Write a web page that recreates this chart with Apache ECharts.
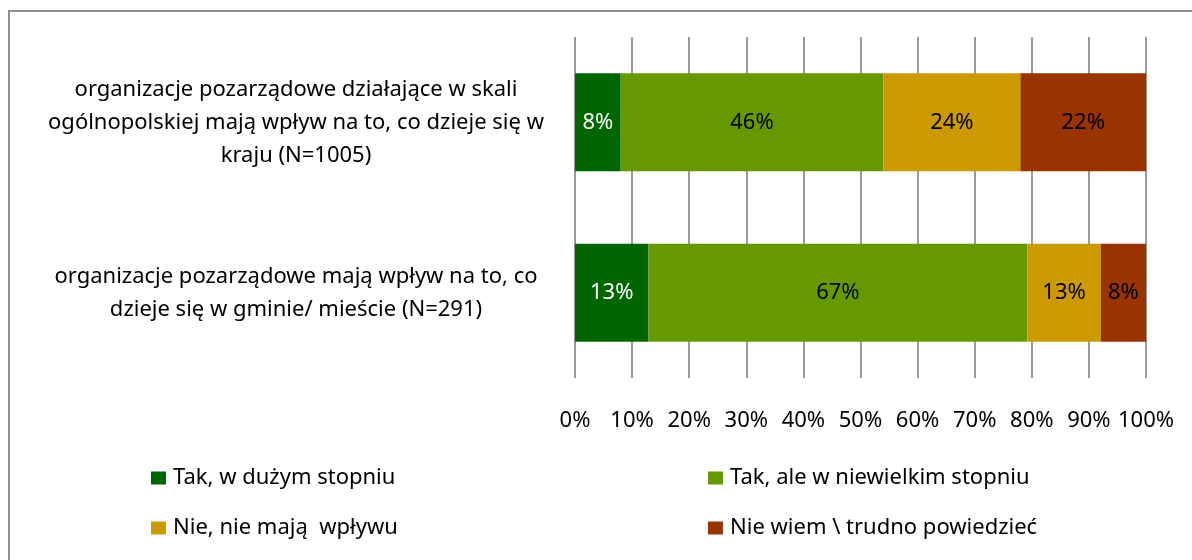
<!DOCTYPE html>
<html>
<head>
<meta charset="utf-8">
<script src="https://cdn.jsdelivr.net/npm/echarts@6/dist/echarts.min.js"></script>
<style>
  html, body { margin: 0; padding: 0; background: #fff; }
  #chart { width: 1192px; height: 560px; }
</style>
</head>
<body>
<div id="chart"></div>
<script>
// kategorie (od góry)
const categories = [
  'organizacje pozarządowe działające w skali\nogólnopolskiej mają wpływ na to, co dzieje się w\nkraju (N=1005)',
  'organizacje pozarządowe mają wpływ na to, co\ndzieje się w gminie/ mieście (N=291)'
];

const seriesNames = [
  'Tak, w dużym stopniu',
  'Tak, ale w niewielkim stopniu',
  'Nie, nie mają  wpływu',
  'Nie wiem \\ trudno powiedzieć'
];

// wartości w % (jak na etykietach)
const bigExtent = [8, 13];
const smallExtent = [46, 67];
const noInfluence = [24, 13];
const dontKnow = [22, 8];

const colors = ['#006600', '#669900', '#cc9900', '#993300'];
const labelColors = ['#ffffff', '#000000', '#000000', '#000000'];
const FONT = 'Noto Sans';
const FS = 22;

const rawSeries = [bigExtent, smallExtent, noInfluence, dontKnow];

// wykres 100% skumulowany: każdy wiersz przeskalowany do sumy 100
const rowTotals = categories.map((c, i) => rawSeries.reduce((s, arr) => s + arr[i], 0));

const chart = echarts.init(document.getElementById('chart'));

const legendPos = [
  { left: 151, top: 465 },
  { left: 708, top: 465 },
  { left: 151, top: 515 },
  { left: 708, top: 515 }
];

const option = {
  animation: false,
  graphic: [{
    type: 'rect',
    shape: { x: 9, y: 11, width: 1200, height: 600 },
    style: { fill: 'none', stroke: '#8e8e8e', lineWidth: 2 },
    silent: true
  }],
  grid: { left: 575, right: 46, top: 37, bottom: 182 },
  xAxis: {
    type: 'value',
    min: 0,
    max: 100,
    interval: 10,
    axisLine: { show: false },
    axisTick: { show: false },
    splitLine: { show: true, lineStyle: { color: '#999999', width: 2 } },
    axisLabel: {
      margin: 32,
      color: '#000',
      fontFamily: FONT,
      fontSize: FS,
      formatter: v => v + '%'
    }
  },
  yAxis: {
    type: 'category',
    data: categories,
    inverse: true,
    axisLine: { show: false },
    axisTick: { show: false },
    axisLabel: {
      margin: 279,
      align: 'center',
      color: '#000',
      fontFamily: FONT,
      fontSize: FS,
      lineHeight: 33,
      padding: [8, 0, 0, 0]
    }
  },
  legend: seriesNames.map((name, i) => ({
    data: [name],
    left: legendPos[i].left,
    top: legendPos[i].top,
    icon: 'rect',
    itemWidth: 15,
    itemHeight: 13,
    itemGap: 5,
    padding: 0,
    selectedMode: false,
    textStyle: { color: '#000', fontFamily: FONT, fontSize: FS, lineHeight: 26, padding: [0, 0, 0, 2] }
  })),
  series: rawSeries.map((arr, si) => ({
    name: seriesNames[si],
    type: 'bar',
    stack: 'total',
    barWidth: 98,
    itemStyle: { color: colors[si] },
    label: {
      show: true,
      position: 'inside',
      color: labelColors[si],
      fontFamily: FONT,
      fontSize: FS,
      formatter: p => arr[p.dataIndex] + '%'
    },
    data: arr.map((v, i) => v / rowTotals[i] * 100)
  }))
};

chart.setOption(option);
</script>
</body>
</html>
